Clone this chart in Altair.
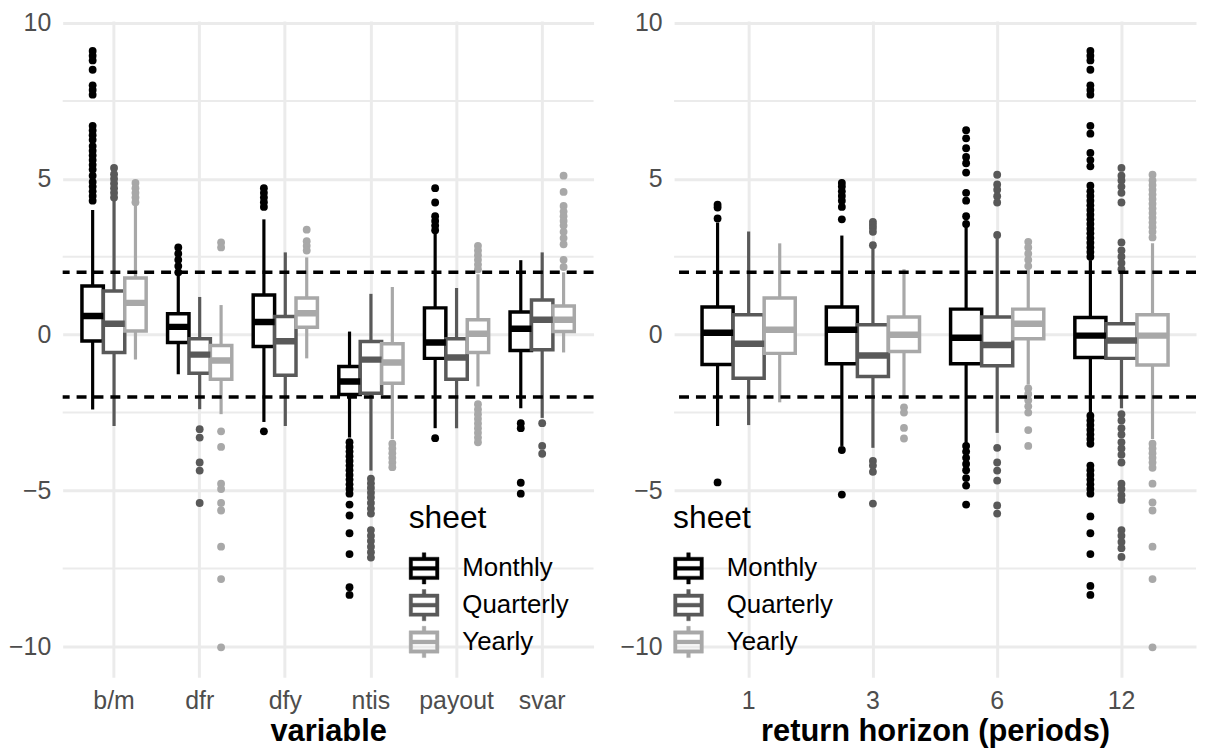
import altair as alt
import pandas as pd

SHEETS = ["Monthly", "Quarterly", "Yearly"]
SHEET_COLORS = ["#000000", "#595959", "#a8a8a8"]
GRID = "#ebebeb"

Y_TICKS = [-10, -5, 0, 5, 10]
Y_MINOR = [-7.5, -2.5, 2.5, 7.5]
REF_LINES = [2, -2]

# ---- left panel: predictor variable -------------------------------------
# every stat list runs group by group, Monthly / Quarterly / Yearly inside
VARIABLES = ["b/m", "dfr", "dfy", "ntis", "payout", "svar"]
VAR_LO = [-2.40, -2.93, -0.80, -1.27, -2.39, -2.55, -2.80, -2.93, -0.76,
          -3.30, -4.36, -3.35, -3.00, -3.00, -1.66, -2.36, -2.67, -0.57]
VAR_Q1 = [-0.20, -0.57, 0.12, -0.25, -1.24, -1.43, -0.38, -1.30, 0.24,
          -1.92, -1.88, -1.56, -0.76, -1.43, -0.57, -0.51, -0.48, 0.10]
VAR_MED = [0.60, 0.35, 1.02, 0.25, -0.64, -0.83, 0.41, -0.21, 0.69,
           -1.50, -0.80, -0.89, -0.25, -0.73, 0.03, 0.19, 0.48, 0.48]
VAR_Q3 = [1.56, 1.40, 1.82, 0.67, -0.13, -0.35, 1.27, 0.58, 1.18,
          -1.02, -0.22, -0.29, 0.86, -0.13, 0.48, 0.73, 1.11, 0.92]
VAR_HI = [4.00, 4.30, 4.15, 1.90, 1.21, 0.95, 3.70, 2.64, 2.48,
          0.10, 1.31, 1.53, 3.28, 1.50, 1.94, 2.39, 2.64, 2.00]
VAR_OUTLIERS = {
    ("b/m", "Monthly"): [9.10, 8.95, 8.80, 8.50, 8.00, 7.85, 7.70, 6.70, 6.55, 6.40,
                         6.25, 6.05, 5.90, 5.75, 5.60, 5.45, 5.30, 5.10, 4.90, 4.75,
                         4.60, 4.45, 4.30],
    ("b/m", "Quarterly"): [5.35, 5.15, 5.00, 4.85, 4.70, 4.55, 4.40],
    ("b/m", "Yearly"): [4.87, 4.70, 4.55, 4.40, 4.25],
    ("dfr", "Monthly"): [2.80, 2.60, 2.40, 2.20, 2.00],
    ("dfr", "Quarterly"): [-3.03, -3.30, -4.10, -4.36, -5.40],
    ("dfr", "Yearly"): [2.96, 2.80, -3.10, -3.60, -4.78, -4.95, -5.40, -5.64, -6.80,
                        -7.84, -10.03],
    ("dfy", "Monthly"): [4.70, 4.55, 4.40, 4.25, 4.10, -3.10],
    ("dfy", "Yearly"): [3.37, 3.00, 2.85, 2.70],
    ("ntis", "Monthly"): [-3.45, -3.60, -3.75, -3.90, -4.05, -4.20, -4.35, -4.50,
                          -4.65, -4.80, -4.95, -5.10, -5.45, -5.80, -6.37, -7.04,
                          -8.10, -8.35],
    ("ntis", "Quarterly"): [-4.62, -4.77, -4.92, -5.07, -5.22, -5.40, -5.58, -5.74,
                            -6.27, -6.45, -6.62, -6.80, -6.98, -7.15],
    ("ntis", "Yearly"): [-3.50, -3.65, -3.80, -3.95, -4.10, -4.25],
    ("payout", "Monthly"): [4.70, 4.24, 3.80, 3.65, 3.50, 3.35, -3.32],
    ("payout", "Yearly"): [2.85, 2.70, 2.55, 2.40, 2.25, 2.10, -2.23, -2.40, -2.55,
                           -2.70, -2.85, -3.00, -3.15, -3.30, -3.45],
    ("svar", "Monthly"): [-2.84, -3.00, -4.75, -5.10],
    ("svar", "Quarterly"): [-2.84, -3.57, -3.82],
    ("svar", "Yearly"): [5.10, 4.58, 4.13, 3.95, 3.80, 3.65, 3.50, 3.30, 3.10, 2.90,
                         2.40, 2.17],
}

# ---- right panel: return horizon ----------------------------------------
HORIZONS = ["1", "3", "6", "12"]
HOR_LO = [-2.93, -2.90, -2.17, -3.57, -3.63, -2.04, -3.47, -3.15, -1.60,
          -2.55, -2.36, -3.35]
HOR_Q1 = [-0.96, -1.40, -0.60, -0.93, -1.34, -0.54, -0.93, -1.00, -0.13,
          -0.73, -0.76, -0.97]
HOR_MED = [0.06, -0.29, 0.16, 0.16, -0.67, 0.00, -0.10, -0.33, 0.35,
           -0.03, -0.19, -0.03]
HOR_Q3 = [0.89, 0.64, 1.18, 0.89, 0.32, 0.57, 0.82, 0.57, 0.82,
          0.55, 0.35, 0.64]
HOR_HI = [3.60, 3.31, 2.93, 3.18, 2.75, 2.10, 3.47, 3.10, 2.10,
          2.39, 1.95, 2.93]
HOR_OUTLIERS = {
    ("1", "Monthly"): [4.17, 4.08, 3.73, -4.74],
    ("3", "Monthly"): [4.87, 4.75, 4.60, 4.45, 4.30, 4.10, 3.70, -3.70, -5.13],
    ("3", "Quarterly"): [3.62, 3.52, 3.42, 3.30, 2.87, -4.05, -4.20, -4.40, -5.42],
    ("3", "Yearly"): [-2.33, -2.50, -2.99, -3.33],
    ("6", "Monthly"): [6.56, 6.30, 5.98, 5.70, 5.50, 5.20, 4.55, 4.30, 3.80, 3.55,
                       -3.57, -3.75, -3.95, -4.15, -4.35, -4.60, -4.84, -5.45],
    ("6", "Quarterly"): [5.13, 4.82, 4.65, 4.44, 4.24, 3.20, -3.63, -4.10, -4.36,
                         -4.68, -5.48, -5.74],
    ("6", "Yearly"): [2.98, 2.80, 2.60, 2.40, 2.20, -1.72, -1.90, -2.10, -2.30,
                      -2.50, -3.06, -3.57],
    ("12", "Monthly"): [9.10, 8.95, 8.80, 8.50, 8.00, 7.85, 7.70, 6.70, 6.45, 5.83,
                        5.60, 5.40, 4.78, 4.60, 4.45, 4.30, 4.15, 4.00, 3.85, 3.70,
                        3.55, 3.40, 3.25, 3.10, 2.95, 2.80, 2.65, 2.50,
                        -2.60, -2.75, -2.90, -3.05, -3.20, -3.35, -3.50, -4.20,
                        -4.35, -4.50, -4.65, -4.80, -4.95, -5.10, -5.83, -6.37,
                        -7.04, -8.06, -8.35],
    ("12", "Quarterly"): [5.35, 5.10, 4.95, 4.75, 4.55, 4.24, 2.96, 2.70, 2.50, 2.30,
                          2.10, -2.55, -2.75, -3.00, -3.20, -3.45, -3.65, -3.85,
                          -4.10, -4.78, -4.95, -5.15, -5.30, -6.27, -6.45, -6.65,
                          -6.85, -7.13],
    ("12", "Yearly"): [5.13, 4.95, 4.80, 4.65, 4.50, 4.35, 4.20, 4.05, 3.90, 3.75,
                       3.60, 3.45, 3.30, 3.12, -3.50, -3.65, -3.80, -3.95, -4.10,
                       -4.27, -4.78, -5.38, -5.64, -6.80, -7.84, -10.03],
}

# boxplot glyph for the legend in the [-1, 1] square: the legend fills the symbol
# with the sheet colour, so the outline is a ring (inner square wound backwards)
BOX_GLYPH = ("M-1,-0.75H1V0.75H-1Z"
             "M-0.77,-0.52V0.52H0.77V-0.52Z"
             "M-0.77,-0.13H0.77V0.13H-0.77Z"
             "M-0.12,-1.05H0.12V-0.75H-0.12Z"
             "M-0.12,0.75H0.12V1.05H-0.12Z")

HEIGHT = 660


def box_frame(groups, lo, q1, med, q3, hi):
    rows = []
    for i, g in enumerate(groups):
        for j, s in enumerate(SHEETS):
            k = 3 * i + j
            rows.append(dict(group=g, sheet=s, lo=lo[k], q1=q1[k], med=med[k],
                             q3=q3[k], hi=hi[k]))
    return pd.DataFrame(rows)


def outlier_frame(outliers):
    # "tone" repeats the sheet so the dots' fill scale is not merged into the legend
    rows = [dict(group=g, sheet=s, tone=s, value=v)
            for (g, s), vals in outliers.items() for v in vals]
    return pd.DataFrame(rows)


def panel(boxes, points, order, title, width, legend_x):
    x = alt.X("group:N", sort=order, title=title,
              scale=alt.Scale(paddingInner=0, paddingOuter=0.1),
              axis=alt.Axis(labelAngle=0, grid=True, bandPosition=0.5,
                            domain=False, ticks=False, labelPadding=11,
                            titlePadding=4))
    xoff = alt.XOffset("sheet:N", sort=SHEETS,
                       scale=alt.Scale(paddingInner=0, paddingOuter=0.5))
    y_scale = alt.Scale(domain=[-10.99, 10.06], nice=False, zero=False)
    y_axis = alt.Axis(values=Y_TICKS, title=None, domain=False, ticks=False,
                      labelPadding=12)
    sheet_scale = alt.Scale(domain=SHEETS, range=SHEET_COLORS)
    legend = alt.Legend(title="sheet", orient="none", legendX=legend_x, legendY=485,
                        symbolType=BOX_GLYPH, symbolSize=900, symbolStrokeWidth=0.4,
                        labelOffset=23, rowPadding=2, titlePadding=18, padding=0)

    def y(field):
        return alt.Y(f"{field}:Q", scale=y_scale, axis=y_axis)

    def stroke(with_legend):
        return alt.Stroke("sheet:N", scale=sheet_scale,
                          legend=legend if with_legend else None)

    minor = (
        alt.Chart(pd.DataFrame({"v": Y_MINOR}))
        .mark_rule(color=GRID, strokeWidth=2)
        .encode(y=y("v"))
    )
    whiskers = (
        alt.Chart(boxes)
        .mark_rule(strokeWidth=3.2)
        .encode(x=x, xOffset=xoff, y=y("lo"), y2="hi:Q", stroke=stroke(True))
    )
    box = (
        alt.Chart(boxes)
        .mark_bar(fill="white", strokeWidth=3.5)
        .encode(x=x, xOffset=xoff, y=y("q1"), y2="q3:Q", stroke=stroke(False))
    )
    median = (
        alt.Chart(boxes)
        .mark_bar(fill="white", strokeWidth=6.5)
        .encode(x=x, xOffset=xoff, y=y("med"), y2="med:Q", stroke=stroke(False))
    )
    dots = (
        alt.Chart(points)
        .mark_circle(size=62, opacity=1)
        .encode(x=x, xOffset=xoff, y=y("value"),
                fill=alt.Fill("tone:N", scale=sheet_scale, legend=None))
    )
    dashed = (
        alt.Chart(pd.DataFrame({"v": REF_LINES}))
        .mark_rule(color="black", strokeWidth=3.5, strokeDash=[10, 7])
        .encode(y=y("v"))
    )
    return alt.layer(minor, whiskers, box, median, dots, dashed).properties(
        width=width, height=HEIGHT)


left = panel(box_frame(VARIABLES, VAR_LO, VAR_Q1, VAR_MED, VAR_Q3, VAR_HI),
             outlier_frame(VAR_OUTLIERS), VARIABLES, "variable", 534, 348)
right = panel(box_frame(HORIZONS, HOR_LO, HOR_Q1, HOR_MED, HOR_Q3, HOR_HI),
              outlier_frame(HOR_OUTLIERS), HORIZONS, "return horizon (periods)",
              525, -1)

chart = (
    alt.hconcat(left, right, spacing=24)
    .resolve_scale(x="independent", xOffset="independent", stroke="independent",
                   fill="independent")
    .resolve_legend(stroke="independent")
    .properties(padding=0)
    .configure(font="Arial, Liberation Sans")
    .configure_view(stroke=None)
    .configure_axis(labelFontSize=25, labelColor="#4d4d4d", titleFontSize=31,
                    titleFontWeight="bold", titleColor="black", gridColor=GRID,
                    gridWidth=3)
    .configure_legend(titleFontSize=32, titleFontWeight="normal", titleColor="black",
                      labelFontSize=26, labelColor="black")
)

chart.save("out.html", embed_options={"renderer": "svg", "actions": False})
